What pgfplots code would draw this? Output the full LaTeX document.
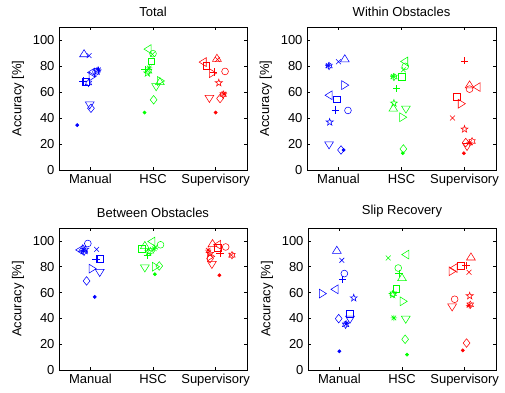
\documentclass[border=0pt]{standalone}
\usepackage{fontspec}
\setmainfont{Liberation Sans}
\usepackage{pgfplots}
\pgfplotsset{compat=1.18}

\pgfdeclareplotmark{mdot}{\pgfpathcircle{\pgfpointorigin}{1.6bp}\pgfusepathqfillstroke}
\pgfdeclareplotmark{mo}{\pgfpathcircle{\pgfpointorigin}{3.4bp}\pgfusepathqstroke}
\pgfdeclareplotmark{mx}{%
  \pgfpathmoveto{\pgfqpoint{-2.4bp}{-2.4bp}}\pgfpathlineto{\pgfqpoint{2.4bp}{2.4bp}}%
  \pgfpathmoveto{\pgfqpoint{-2.4bp}{2.4bp}}\pgfpathlineto{\pgfqpoint{2.4bp}{-2.4bp}}\pgfusepathqstroke}
\pgfdeclareplotmark{mplus}{%
  \pgfpathmoveto{\pgfqpoint{-3.7bp}{0bp}}\pgfpathlineto{\pgfqpoint{3.7bp}{0bp}}%
  \pgfpathmoveto{\pgfqpoint{0bp}{3.7bp}}\pgfpathlineto{\pgfqpoint{0bp}{-3.7bp}}\pgfusepathqstroke}
\pgfdeclareplotmark{mast}{%
  \pgfpathmoveto{\pgfqpoint{-3.2bp}{0bp}}\pgfpathlineto{\pgfqpoint{3.2bp}{0bp}}%
  \pgfpathmoveto{\pgfqpoint{0bp}{3.2bp}}\pgfpathlineto{\pgfqpoint{0bp}{-3.2bp}}%
  \pgfpathmoveto{\pgfqpoint{-2.3bp}{-2.3bp}}\pgfpathlineto{\pgfqpoint{2.3bp}{2.3bp}}%
  \pgfpathmoveto{\pgfqpoint{-2.3bp}{2.3bp}}\pgfpathlineto{\pgfqpoint{2.3bp}{-2.3bp}}\pgfusepathqstroke}
\pgfdeclareplotmark{msq}{%
  \pgfpathmoveto{\pgfqpoint{-3.3bp}{-3.3bp}}\pgfpathlineto{\pgfqpoint{3.3bp}{-3.3bp}}%
  \pgfpathlineto{\pgfqpoint{3.3bp}{3.3bp}}\pgfpathlineto{\pgfqpoint{-3.3bp}{3.3bp}}%
  \pgfpathclose\pgfusepathqstroke}
\pgfdeclareplotmark{md}{%
  \pgfpathmoveto{\pgfqpoint{0bp}{4.3bp}}\pgfpathlineto{\pgfqpoint{3.4bp}{0bp}}%
  \pgfpathlineto{\pgfqpoint{0bp}{-4.3bp}}\pgfpathlineto{\pgfqpoint{-3.4bp}{0bp}}\pgfpathclose\pgfusepathqstroke}
\pgfdeclareplotmark{mup}{%
  \pgfpathmoveto{\pgfqpoint{0bp}{4.0bp}}\pgfpathlineto{\pgfqpoint{4.4bp}{-3.1bp}}%
  \pgfpathlineto{\pgfqpoint{-4.4bp}{-3.1bp}}\pgfpathclose\pgfusepathqstroke}
\pgfdeclareplotmark{mdown}{%
  \pgfpathmoveto{\pgfqpoint{0bp}{-4.0bp}}\pgfpathlineto{\pgfqpoint{4.4bp}{3.1bp}}%
  \pgfpathlineto{\pgfqpoint{-4.4bp}{3.1bp}}\pgfpathclose\pgfusepathqstroke}
\pgfdeclareplotmark{mleft}{%
  \pgfpathmoveto{\pgfqpoint{-4.0bp}{0bp}}\pgfpathlineto{\pgfqpoint{3.1bp}{4.4bp}}%
  \pgfpathlineto{\pgfqpoint{3.1bp}{-4.4bp}}\pgfpathclose\pgfusepathqstroke}
\pgfdeclareplotmark{mright}{%
  \pgfpathmoveto{\pgfqpoint{4.0bp}{0bp}}\pgfpathlineto{\pgfqpoint{-3.1bp}{4.4bp}}%
  \pgfpathlineto{\pgfqpoint{-3.1bp}{-4.4bp}}\pgfpathclose\pgfusepathqstroke}
\pgfdeclareplotmark{mpent}{%
  \pgfpathmoveto{\pgfpointpolar{90}{3.7bp}}%
  \pgfpathlineto{\pgfpointpolar{126}{1.45bp}}\pgfpathlineto{\pgfpointpolar{162}{3.7bp}}%
  \pgfpathlineto{\pgfpointpolar{198}{1.45bp}}\pgfpathlineto{\pgfpointpolar{234}{3.7bp}}%
  \pgfpathlineto{\pgfpointpolar{270}{1.45bp}}\pgfpathlineto{\pgfpointpolar{306}{3.7bp}}%
  \pgfpathlineto{\pgfpointpolar{342}{1.45bp}}\pgfpathlineto{\pgfpointpolar{18}{3.7bp}}%
  \pgfpathlineto{\pgfpointpolar{54}{1.45bp}}\pgfpathclose\pgfusepathqstroke}
\pgfdeclareplotmark{mhex}{%
  \pgfpathmoveto{\pgfpointpolar{90}{3.7bp}}%
  \pgfpathlineto{\pgfpointpolar{120}{2.1bp}}\pgfpathlineto{\pgfpointpolar{150}{3.7bp}}%
  \pgfpathlineto{\pgfpointpolar{180}{2.1bp}}\pgfpathlineto{\pgfpointpolar{210}{3.7bp}}%
  \pgfpathlineto{\pgfpointpolar{240}{2.1bp}}\pgfpathlineto{\pgfpointpolar{270}{3.7bp}}%
  \pgfpathlineto{\pgfpointpolar{300}{2.1bp}}\pgfpathlineto{\pgfpointpolar{330}{3.7bp}}%
  \pgfpathlineto{\pgfpointpolar{0}{2.1bp}}\pgfpathlineto{\pgfpointpolar{30}{3.7bp}}%
  \pgfpathlineto{\pgfpointpolar{60}{2.1bp}}\pgfpathclose\pgfusepathqstroke}

\pgfplotsset{
  mstyle/.style={only marks, scatter, point meta=explicit symbolic, line width=0.55pt,
    scatter/classes={cdot={mark=mdot}, co={mark=mo}, cx={mark=mx}, cplus={mark=mplus},
      cast={mark=mast}, csq={mark=msq}, cdia={mark=md}, cdown={mark=mdown}, cup={mark=mup},
      cleft={mark=mleft}, cright={mark=mright}, cpent={mark=mpent}, chex={mark=mhex}}},
  panel/.style={scale only axis, width=188bp, height=143bp, anchor=south west,
    xmin=0.5, xmax=3.5, ymin=0, ymax=110,
    xtick={1,2,3}, xticklabels={Manual,HSC,Supervisory},
    ytick={0,20,40,60,80,100}, tick align=inside, major tick length=3bp,
    tick style={line width=0.5pt, black}, axis line style={line width=0.6pt},
    ylabel={Accuracy [\%]},
    ylabel style={at={(axis description cs:-0.218,0.5)}, anchor=center},
    /pgf/number format/assume math mode=true}
}

\begin{document}
\fontsize{13bp}{15bp}\selectfont
\begin{tikzpicture}
\useasboundingbox (0,0) rectangle (505bp,393bp);

% ---------------- Total ----------------
\begin{axis}[panel, at={(59bp,223bp)}, title={Total}]
\addplot[mstyle, draw=blue, fill=blue] table[x=x,y=y,meta=m] {
x y m
0.79 34.5 cdot
0.90 89.5 cup
0.98 88 cx
0.88 68.5 cplus
0.93 67.8 csq
0.97 67 chex
1.02 75 cleft
1.03 72 cright
1.09 75.5 co
1.13 77 cast
1.11 76 cpent
0.99 50 cdown
1.01 47.5 cdia
};
\addplot[mstyle, draw=green, fill=green] table[x=x,y=y,meta=m] {
x y m
1.865 44.2 cdot
1.92 93 cleft
2.0 89.5 co
1.99 89 cx
1.97 83.5 csq
1.87 77.5 cplus
1.94 78.5 cast
1.91 74.5 cpent
1.93 76 chex
2.12 68.5 cright
2.11 68 cup
2.05 64 cdown
2.01 54 cdia
};
\addplot[mstyle, draw=red, fill=red] table[x=x,y=y,meta=m] {
x y m
3.0 44.2 cdot
2.8 83 cleft
2.85 80 csq
3.02 86 cup
3.03 85 cx
2.95 74.5 cright
2.97 75.5 cplus
3.15 75.8 co
3.05 67 cpent
2.9 55 cdown
3.07 55 cdia
3.13 58.5 cast
3.12 58 chex
};
\end{axis}

% ---------------- Within Obstacles ----------------
\begin{axis}[panel, at={(307bp,223bp)}, width=189bp, title={Within Obstacles}]
\addplot[mstyle, draw=blue, fill=blue] table[x=x,y=y,meta=m] {
x y m
0.84 80.3 cast
0.85 80 chex
0.95 46.3 cplus
1.0 83.3 cx
1.10 85.6 cup
1.10 65.3 cright
0.85 57.5 cleft
0.97 54.5 csq
1.15 45.8 co
0.86 36.8 cpent
0.85 19.3 cdown
1.04 15.4 cdia
1.08 15.4 cdot
};
\addplot[mstyle, draw=green, fill=green] table[x=x,y=y,meta=m] {
x y m
2.05 83.5 cleft
2.06 79.7 co
2.03 77 cx
1.87 72 cast
1.88 71.5 chex
2.0 71.5 csq
1.92 62.5 cplus
1.88 51.4 cpent
1.87 47.6 cup
2.07 46.8 cdown
2.02 40.6 cright
2.03 16.2 cdia
2.02 12.9 cdot
};
\addplot[mstyle, draw=red, fill=red] table[x=x,y=y,meta=m] {
x y m
3.0 84 cplus
3.08 65.5 cup
3.2 63.8 cleft
3.08 62.2 co
2.88 56.5 csq
2.95 51 cright
2.81 40 cx
3.0 31.4 cpent
3.02 21.1 cdia
3.04 18 cdown
3.08 21 cast
3.12 22 chex
2.99 12.9 cdot
};
\end{axis}

% ---------------- Between Obstacles ----------------
\begin{axis}[panel, at={(59bp,23bp)}, height=142bp, title={Between Obstacles}]
\addplot[mstyle, draw=blue, fill=blue] table[x=x,y=y,meta=m] {
x y m
1.07 56.6 cdot
0.96 98 co
0.88 94 cup
0.83 93 cleft
0.89 92.5 cast
0.92 93.5 cpent
0.9 91.5 chex
1.1 93.5 cx
1.09 86 cplus
1.16 86 csq
1.03 78.5 cright
1.15 75.5 cdown
0.94 69 cdia
};
\addplot[mstyle, draw=green, fill=green] table[x=x,y=y,meta=m] {
x y m
1.98 99.5 cleft
2.12 97 co
1.82 94 csq
2.04 95.3 cx
1.87 96.5 cup
2.02 94 cast
1.91 88.5 cplus
1.93 91.5 cpent
1.96 92 chex
1.87 79 cdown
2.1 80.6 cdia
2.04 80 cright
2.03 74.2 cdot
};
\addplot[mstyle, draw=red, fill=red] table[x=x,y=y,meta=m] {
x y m
2.95 98 cup
3.03 97 cleft
3.16 95.3 co
3.03 94.6 csq
2.88 92.8 cast
3.07 90.2 cplus
3.26 88.9 chex
3.25 89 cx
2.91 90.2 cpent
2.92 88 cright
2.91 86.3 cdia
2.94 81.7 cdown
3.06 73.4 cdot
};
\end{axis}

% ---------------- Slip Recovery ----------------
\begin{axis}[panel, at={(308bp,23bp)}, height=142bp, title={Slip Recovery}]
\addplot[mstyle, draw=blue, fill=blue] table[x=x,y=y,meta=m] {
x y m
0.96 92.8 cup
1.04 85 cx
1.08 74.7 co
1.05 70.3 cplus
0.93 62.5 cleft
0.73 59.2 cright
1.23 55.8 cpent
1.17 43.7 csq
1.17 39.3 cdown
0.99 39.8 cdia
1.11 35.9 cast
1.10 35 chex
1.0 14.5 cdot
};
\addplot[mstyle, draw=green, fill=green] table[x=x,y=y,meta=m] {
x y m
1.78 86.8 cx
2.06 89.4 cleft
1.94 79 co
1.95 74.7 cplus
2.0 71.6 cup
1.91 63 csq
1.85 58.4 cpent
1.86 59 chex
2.02 53.2 cright
1.87 40.3 cast
2.06 39.3 cdown
2.05 23.8 cdia
2.08 11.9 cdot
};
\addplot[mstyle, draw=red, fill=red] table[x=x,y=y,meta=m] {
x y m
3.1 87.6 cup
2.94 80.6 csq
2.83 79 cleft
2.8 76.5 cright
3.02 81 cplus
3.07 75.7 cx
2.84 54.8 co
2.8 48.8 cdown
3.08 57.4 cpent
3.07 50.1 cast
3.09 50.5 chex
3.03 20.9 cdia
2.97 15.2 cdot
};
\end{axis}
\end{tikzpicture}
\end{document}
